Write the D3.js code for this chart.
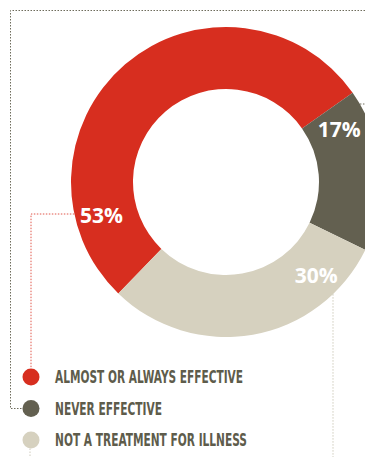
<!DOCTYPE html>
<html>
<head>
<meta charset="utf-8">
<script src="https://cdn.jsdelivr.net/npm/d3@7/dist/d3.min.js"></script>
<style>
  html, body { margin: 0; padding: 0; background: #ffffff; }
  svg { display: block; }
</style>
</head>
<body>
<svg id="chart" width="365" height="457"></svg>
<script>
// Survey answers and their shares (percent)
const categories = ["ALMOST OR ALWAYS EFFECTIVE", "NEVER EFFECTIVE", "NOT A TREATMENT FOR ILLNESS"];
const values = [53, 17, 30];
const valueLabels = ["53%", "17%", "30%"];

// Presentation
const colors = ["#d72e1f", "#636050", "#d6d1bf"];
const leaderColors = ["#e0574b", "#6e6c5c", "#cfcbbc"];
const labelAngleDeg = [255, 65, 136];   // where each value label sits around the ring
const labelRadius = [129, 125, 130];
const legendWidths = [188, 107, 192];

const W = 365, H = 457;
const cx = 226, cy = 182;
const rInner = 93, rOuter = 155;
const rad = d => d * Math.PI / 180;

const svg = d3.select("#chart");

const pie = d3.pie()
  .sort(null)
  .value(d => d)
  .startAngle(rad(-136))
  .endAngle(rad(-136) + 2 * Math.PI);

const arc = d3.arc().innerRadius(rInner).outerRadius(rOuter);

const ring = svg.append("g").attr("transform", `translate(${cx},${cy})`);
ring.selectAll("path")
  .data(pie(values))
  .join("path")
  .attr("d", arc)
  .attr("fill", (d, i) => colors[i]);

// Value labels inside the ring
ring.selectAll("text.val")
  .data(valueLabels)
  .join("text")
  .attr("class", "val")
  .attr("x", (d, i) => labelRadius[i] * Math.sin(rad(labelAngleDeg[i])))
  .attr("y", (d, i) => -labelRadius[i] * Math.cos(rad(labelAngleDeg[i])))
  .attr("dy", "0.36em")
  .attr("text-anchor", "middle")
  .attr("font-family", "'Open Sans', 'Noto Sans', sans-serif")
  .attr("font-weight", 700)
  .attr("font-size", 21)
  .attr("fill", "#ffffff")
  .text(d => d);

// Legend
const legendY = d3.scalePoint().domain(categories).range([377, 440]);
const dotX = 31, textX = 55, dotR = 8.5;

const legend = svg.append("g");
legend.selectAll("circle")
  .data(categories)
  .join("circle")
  .attr("cx", dotX)
  .attr("cy", d => legendY(d))
  .attr("r", dotR)
  .attr("fill", (d, i) => colors[i]);

legend.selectAll("text")
  .data(categories)
  .join("text")
  .attr("x", textX)
  .attr("y", d => legendY(d) + 6)
  .attr("font-family", "'Liberation Sans Narrow', 'DejaVu Sans Condensed', 'Liberation Sans', sans-serif")
  .attr("font-weight", 700)
  .attr("font-size", 18)
  .attr("fill", "#5e5c4b")
  .attr("textLength", (d, i) => legendWidths[i])
  .attr("lengthAdjust", "spacingAndGlyphs")
  .text(d => d);

// Dotted leader lines linking ring segments to legend entries
const outerX = y => cx - Math.sqrt(rOuter * rOuter - (y - cy) * (y - cy));
const outerXRight = y => cx + Math.sqrt(rOuter * rOuter - (y - cy) * (y - cy));
const outerYBelow = x => cy + Math.sqrt(rOuter * rOuter - (x - cx) * (x - cx));

const leaders = svg.append("g")
  .attr("fill", "none")
  .attr("stroke-width", 1)
  .attr("stroke-dasharray", "1.5,1.5");

// red segment -> first legend dot
const redY = 214;
leaders.append("path")
  .attr("stroke", leaderColors[0])
  .attr("d", d3.line()([[outerX(redY), redY], [dotX, redY], [dotX, legendY(categories[0]) - dotR]]));

// dark segment -> frame along the top and left -> second legend dot
const darkY = 104;
leaders.append("path")
  .attr("stroke", leaderColors[1])
  .attr("d", d3.line()([[outerXRight(darkY), darkY], [W, darkY]]));
leaders.append("path")
  .attr("stroke", leaderColors[1])
  .attr("d", d3.line()([[W, 10.5], [10.5, 10.5], [10.5, legendY(categories[1])], [dotX - dotR, legendY(categories[1])]]));

// beige segment -> down past the legend
const beigeX = 333;
leaders.append("path")
  .attr("stroke", leaderColors[2])
  .attr("d", d3.line()([[beigeX, outerYBelow(beigeX)], [beigeX, H]]));
leaders.append("path")
  .attr("stroke", leaderColors[2])
  .attr("d", d3.line()([[dotX - 1, legendY(categories[2]) + dotR], [dotX - 1, H]]));
</script>
</body>
</html>
